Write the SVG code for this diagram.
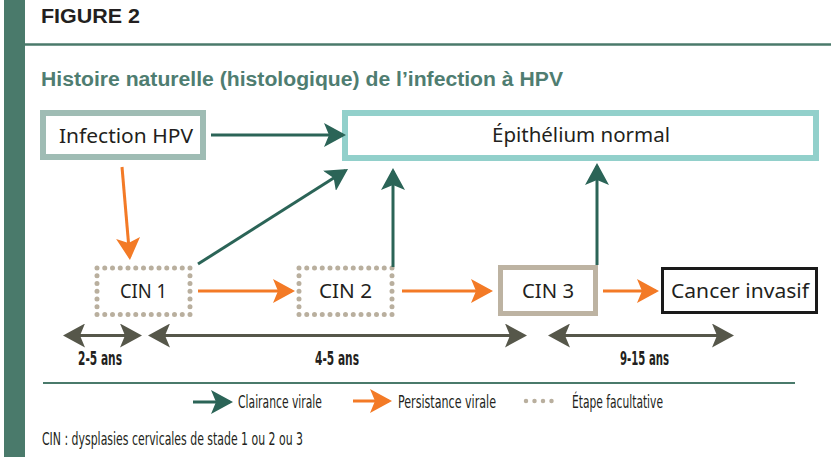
<svg xmlns="http://www.w3.org/2000/svg" width="831" height="457" viewBox="0 0 831 457">
<style>
.node{font-family:"Noto Sans","Open Sans","DejaVu Sans",sans-serif;font-size:20px;fill:#231f20;text-anchor:middle}
.cond{font-family:"DejaVu Sans Condensed","DejaVu Sans","Liberation Sans",sans-serif;font-stretch:condensed;fill:#231f20}
.dur{font-weight:bold;font-size:20px;text-anchor:middle}
.leg{font-size:18px}
.green{stroke:#2b6457;stroke-width:3;fill:none}
.orange{stroke:#f37a26;stroke-width:3;fill:none}
.time{stroke:#56574a;stroke-width:3;fill:none}
.dots{fill:none;stroke:#b9af9e;stroke-width:5;stroke-linecap:round;stroke-dasharray:0 7.75}
</style>
<defs>
<marker id="hg" viewBox="0 0 22 24" refX="19" refY="12" markerWidth="22" markerHeight="24" markerUnits="userSpaceOnUse" orient="auto-start-reverse"><path d="M22,12 L0,0 L5,12 L0,24 Z" fill="#2b6457"/></marker>
<marker id="ho" viewBox="0 0 22 24" refX="19" refY="12" markerWidth="22" markerHeight="24" markerUnits="userSpaceOnUse" orient="auto-start-reverse"><path d="M22,12 L0,0 L5,12 L0,24 Z" fill="#f37a26"/></marker>
<marker id="ht" viewBox="0 0 22 24" refX="19" refY="12" markerWidth="22" markerHeight="24" markerUnits="userSpaceOnUse" orient="auto-start-reverse"><path d="M22,12 L0,0 L5,12 L0,24 Z" fill="#56574a"/></marker>
</defs>
<rect width="831" height="457" fill="#ffffff"/>
<rect x="4" y="0" width="21" height="457" fill="#4a7a6b"/>
<line x1="25" y1="44.5" x2="831" y2="44.5" stroke="#4a7a6b" stroke-width="2.7"/>
<text x="41" y="23" font-family="'Liberation Sans',Arial,sans-serif" font-weight="bold" font-size="21" fill="#231f20" textLength="99" lengthAdjust="spacingAndGlyphs">FIGURE 2</text>
<text x="41" y="86" font-family="'Liberation Sans',Arial,sans-serif" font-weight="bold" font-size="20" fill="#4f7d71" textLength="522" lengthAdjust="spacingAndGlyphs">Histoire naturelle (histologique) de l’infection à HPV</text>

<g id="infection">
<rect x="43" y="113" width="160" height="44" fill="#fff" stroke="#9fbcb4" stroke-width="6"/>
<text class="node" x="126" y="143" textLength="134" lengthAdjust="spacingAndGlyphs">Infection HPV</text>
</g>
<g id="epithelium">
<rect x="345" y="113" width="471" height="45" fill="#fff" stroke="#92d0cb" stroke-width="6"/>
<text class="node" x="581" y="142" textLength="178" lengthAdjust="spacingAndGlyphs">Épithélium normal</text>
</g>
<g id="cin1">
<rect x="97" y="268" width="93" height="46.5" class="dots"/>
<text class="node" x="143.5" y="298" textLength="47" lengthAdjust="spacingAndGlyphs">CIN 1</text>
</g>
<g id="cin2">
<rect x="299" y="268" width="93" height="46.5" class="dots"/>
<text class="node" x="345.5" y="298" textLength="53" lengthAdjust="spacingAndGlyphs">CIN 2</text>
</g>
<g id="cin3">
<rect x="500.5" y="267.5" width="95" height="46" fill="#fff" stroke="#bdb3a2" stroke-width="5"/>
<text class="node" x="548" y="298" textLength="52" lengthAdjust="spacingAndGlyphs">CIN 3</text>
</g>
<g id="cancer">
<rect x="662.5" y="268.5" width="154" height="44" fill="#fff" stroke="#1a1a1a" stroke-width="3"/>
<text class="node" x="740" y="298" textLength="138" lengthAdjust="spacingAndGlyphs">Cancer invasif</text>
</g>

<g id="connectors">
<line class="green" x1="211" y1="135" x2="343" y2="135" marker-end="url(#hg)"/>
<line class="green" x1="198" y1="264" x2="345.5" y2="170.6" marker-end="url(#hg)"/>
<line class="green" x1="393" y1="267" x2="393" y2="171" marker-end="url(#hg)"/>
<line class="green" x1="597" y1="265" x2="597" y2="166" marker-end="url(#hg)"/>
<line class="orange" x1="122" y1="167" x2="129.7" y2="257" marker-end="url(#ho)"/>
<line class="orange" x1="198" y1="291" x2="292" y2="291" marker-end="url(#ho)"/>
<line class="orange" x1="402" y1="291" x2="490" y2="291" marker-end="url(#ho)"/>
<line class="orange" x1="603" y1="291" x2="656" y2="291" marker-end="url(#ho)"/>
<line class="time" x1="66" y1="335.5" x2="139" y2="335.5" marker-start="url(#ht)" marker-end="url(#ht)"/>
<line class="time" x1="151" y1="335.5" x2="524" y2="335.5" marker-start="url(#ht)" marker-end="url(#ht)"/>
<line class="time" x1="551" y1="335.5" x2="731" y2="335.5" marker-start="url(#ht)" marker-end="url(#ht)"/>
</g>

<g id="durations">
<text class="cond dur" x="100" y="365" textLength="44" lengthAdjust="spacingAndGlyphs">2-5 ans</text>
<text class="cond dur" x="337" y="365" textLength="44" lengthAdjust="spacingAndGlyphs">4-5 ans</text>
<text class="cond dur" x="644.5" y="365" textLength="49" lengthAdjust="spacingAndGlyphs">9-15 ans</text>
</g>

<line x1="43" y1="383" x2="795" y2="383" stroke="#4a7a6b" stroke-width="2"/>

<g id="legend">
<line class="green" x1="193" y1="402" x2="230" y2="402" marker-end="url(#hg)"/>
<text class="cond leg" x="238" y="408" textLength="84" lengthAdjust="spacingAndGlyphs">Clairance virale</text>
<line class="orange" x1="353" y1="401" x2="389" y2="401" marker-end="url(#ho)"/>
<text class="cond leg" x="398" y="408" textLength="98" lengthAdjust="spacingAndGlyphs">Persistance virale</text>
<line x1="526" y1="401" x2="560" y2="401" stroke="#b9af9e" stroke-width="4.5" stroke-linecap="round" stroke-dasharray="0 8.5"/>
<text class="cond leg" x="572" y="408" textLength="91" lengthAdjust="spacingAndGlyphs">Étape facultative</text>
</g>
<text class="cond leg" x="42" y="445" textLength="261" lengthAdjust="spacingAndGlyphs">CIN : dysplasies cervicales de stade 1 ou 2 ou 3</text>
</svg>
